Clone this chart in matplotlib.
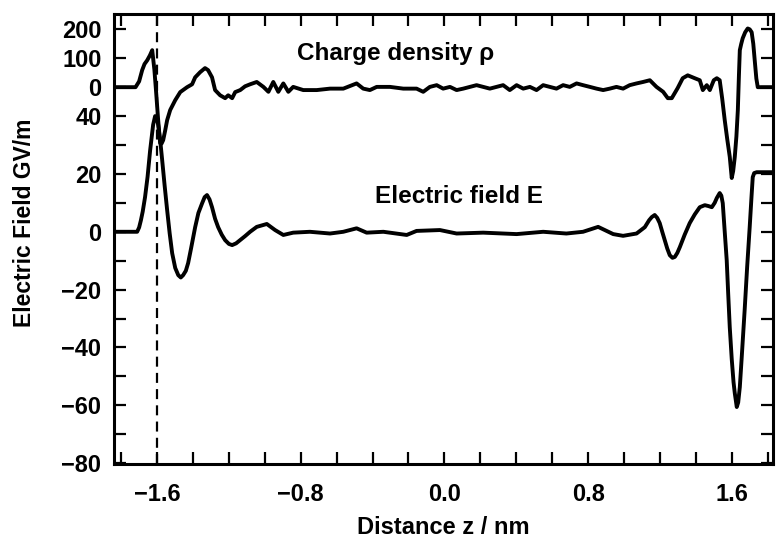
import matplotlib
matplotlib.use("Agg")
import matplotlib.pyplot as plt
from matplotlib.ticker import FixedLocator, FixedFormatter, MultipleLocator

plt.rcParams['font.family'] = ['Liberation Sans', 'DejaVu Sans']

# charge density rho
rho_z = [-1.84, -1.72, -1.70, -1.683, -1.67, -1.655, -1.64, -1.627, -1.615, -1.605,
         -1.594, -1.583, -1.575, -1.566, -1.555, -1.544,
         -1.527, -1.499, -1.471, -1.433, -1.405, -1.388, -1.36, -1.333, -1.316, -1.294,
         -1.277, -1.249, -1.221, -1.204, -1.182, -1.165, -1.137, -1.11, -1.082, -1.045,
         -1.008, -0.98, -0.953, -0.925, -0.897, -0.869, -0.842, -0.786, -0.711, -0.637,
         -0.563, -0.489, -0.452, -0.415, -0.377, -0.303, -0.229, -0.155, -0.118, -0.081,
         -0.043, -0.007, 0.031, 0.068, 0.105, 0.142, 0.179, 0.216, 0.253, 0.29,
         0.327, 0.364, 0.402, 0.439, 0.476, 0.513, 0.55, 0.587, 0.624, 0.661,
         0.698, 0.736, 0.772, 0.81, 0.847, 0.884, 0.921, 0.958, 0.995, 1.032,
         1.07, 1.106, 1.144, 1.181, 1.218, 1.244, 1.266, 1.299, 1.327, 1.355,
         1.394, 1.422, 1.439, 1.461, 1.478, 1.5, 1.517, 1.533, 1.547, 1.561, 1.575, 1.589,
         1.6, 1.608, 1.617, 1.626, 1.634, 1.64, 1.645, 1.653, 1.661, 1.675, 1.689, 1.70,
         1.711, 1.72, 1.728, 1.737, 1.745, 1.83]
rho_val = [0, 0, 20, 59, 80, 93, 110, 128, 60, -20,
           -114, -193, -195, -183, -150, -114,
           -79, -45, -17, 0, 10, 34, 52, 66, 59, 34,
           -10, -28, -38, -28, -38, -17, -10, 3, 10, 18,
           1, -16, 18, -16, 13, -16, 1, -10, -10, -5,
           -5, 13, -5, -10, 1, 1, -5, -5, -16, 1,
           7, -5, 1, -10, -5, 1, 7, 1, -5, 1,
           7, -10, 7, -5, 1, -10, 7, 1, -5, 7,
           1, 13, 7, 1, -5, -10, -5, 1, -5, 7,
           13, 18, 24, 1, -16, -38, -38, -3, 31, 41,
           31, 24, -10, 7, -10, 24, 31, 24, -40, -114, -180, -241,
           -314, -290, -241, -170, -79, 40, 128, 150, 169, 190, 203, 200,
           190, 150, 93, 30, 0, 0]

# electric field E in GV/m
e_z = [-1.84, -1.711, -1.70, -1.69, -1.68, -1.667, -1.653, -1.639, -1.622, -1.611,
       -1.60, -1.594, -1.58, -1.572, -1.558, -1.544, -1.53, -1.516, -1.499, -1.482,
       -1.468, -1.455, -1.44, -1.427, -1.41, -1.388, -1.37, -1.349, -1.335, -1.322,
       -1.308, -1.294, -1.277, -1.26, -1.24, -1.221, -1.20, -1.182, -1.16, -1.138,
       -1.11, -1.082, -1.045, -0.989, -0.943, -0.897, -0.842, -0.749, -0.637,
       -0.563, -0.489, -0.433, -0.34, -0.21, -0.155, -0.025, 0.068, 0.216, 0.402,
       0.55, 0.679, 0.772, 0.856, 0.94, 0.995, 1.07, 1.116, 1.14, 1.155, 1.171,
       1.185, 1.199, 1.213, 1.227, 1.241, 1.255, 1.27, 1.283, 1.297, 1.311,
       1.338, 1.366, 1.394, 1.422, 1.45, 1.47, 1.489, 1.505, 1.517, 1.533,
       1.542, 1.55, 1.561, 1.572, 1.58, 1.589, 1.60, 1.61, 1.617, 1.628,
       1.636, 1.645, 1.655, 1.665, 1.672, 1.686, 1.70, 1.71, 1.717, 1.725,
       1.739, 1.83]
e_val = [0, 0, 1.5, 4, 7, 12, 19, 28, 37, 40,
         39, 37, 30, 25, 16, 7.5, -0.5, -7.4, -12.5, -15,
         -15.8, -15, -13.5, -10.8, -5.5, 1.6, 6.5, 9.9, 12, 12.7,
         11.2, 8.5, 4.5, 1.6, -1, -2.9, -4.2, -4.6, -4, -2.9,
         -1.5, 0, 1.7, 2.7, 0.6, -1.1, -0.3, 0, -0.6,
         0, 1.2, -0.3, 0, -1.1, 0.3, 0.6, -0.6, -0.3, -0.8,
         0, -0.6, 0, 1.7, -0.8, -1.4, -0.6, 1.6, 4, 5.1, 5.8,
         4.8, 3, 0, -2.9, -5.8, -8.1, -9, -8.7, -7.3, -5.3,
         -1, 3, 6, 8.5, 9.2, 8.9, 8.5, 10, 11.7, 13.4,
         12.5, 9.9, 0, -9.8, -21, -33, -44, -52, -55.8, -60.6,
         -59, -53.7, -44, -34, -27, -12, 1.6, 12, 18.9, 20.3,
         20.6, 20.6]

# rho is drawn on the same axis: 100 units of rho = 10 GV/m, zero at 50
rho_offset = 50
rho_scale = 0.1

fig = plt.figure(figsize=(7.77, 5.41), dpi=100)
ax = fig.add_axes([0.1467, 0.1423, 0.8482, 0.8318])

ax.plot(e_z, e_val, color="black", lw=2.8, solid_joinstyle="round")
ax.plot(rho_z, [rho_offset + rho_scale * r for r in rho_val], color="black", lw=2.8,
        solid_joinstyle="round")
ax.axvline(-1.6, color="black", lw=1.6, dashes=(4.5, 2.8))

ax.set_xlim(-1.84, 1.83)
ax.set_ylim(-80.3, 75.3)

ax.xaxis.set_major_locator(FixedLocator([-1.6, -0.8, 0.0, 0.8, 1.6]))
ax.xaxis.set_major_formatter(FixedFormatter(["\u22121.6", "\u22120.8", "0.0", "0.8", "1.6"]))
ax.xaxis.set_minor_locator(MultipleLocator(0.2))

yt = [-80, -60, -40, -20, 0, 20, 40, 50, 60, 70]
ytl = ["\u221280", "\u221260", "\u221240", "\u221220", "0", "20", "40", "0", "100", "200"]
ax.yaxis.set_major_locator(FixedLocator(yt))
ax.yaxis.set_major_formatter(FixedFormatter(ytl))
ax.yaxis.set_minor_locator(FixedLocator([-70, -50, -30, -10, 10, 30]))

for s in ax.spines.values():
    s.set_linewidth(2.2)
ax.tick_params(which="both", direction="in", top=True, right=True, length=8.5, width=1.6)
ax.tick_params(axis="y", which="major", labelsize=17, pad=9)
ax.tick_params(axis="x", which="major", labelsize=17, pad=14)
for lab in ax.get_xticklabels() + ax.get_yticklabels():
    lab.set_fontweight("bold")

ax.set_xlabel("Distance z / nm", fontsize=17, fontweight="bold", labelpad=7)
ax.set_ylabel("Electric Field GV/m", fontsize=16.5, fontweight="bold")
ax.yaxis.set_label_coords(-0.118, 0.535)

ax.text(-0.82, 59.4, "Charge density \u03c1", fontsize=17.5, fontweight="bold", ha="left",
        va="baseline")
ax.text(0.548, 9.9, "Electric field E", fontsize=17.5, fontweight="bold", ha="right",
        va="baseline")

fig.savefig("out.png", dpi=100)
